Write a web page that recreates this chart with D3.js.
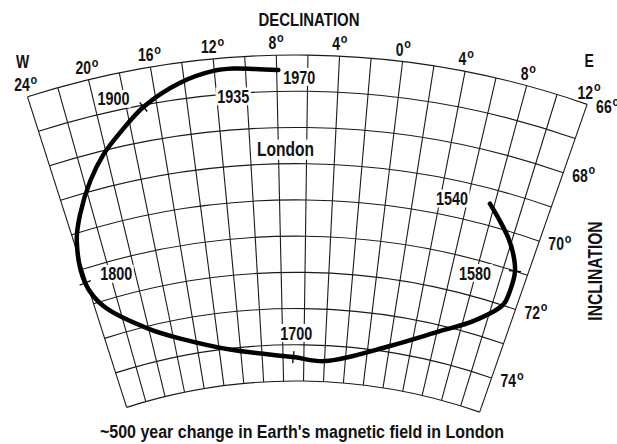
<!DOCTYPE html>
<html>
<head>
<meta charset="utf-8">
<script src="https://cdn.jsdelivr.net/npm/d3@7"></script>
<style>
  body { margin: 0; background: #fff; }
  text { font-family: "Liberation Sans", Arial, sans-serif; font-weight: bold; fill: #111; }
</style>
</head>
<body>
<div id="chart"></div>
<script>
// grid: declination lines every 2 deg (negative = West), inclination arcs every 1 deg
const decLines = [-24, -22, -20, -18, -16, -14, -12, -10, -8, -6, -4, -2, 0, 2, 4, 6, 8, 10, 12];
const incArcs = [66, 67, 68, 69, 70, 71, 72, 73, 74, 75];
const decLabels = [-24, -20, -16, -12, -8, -4, 0, 4, 8, 12];
const incLabels = [66, 68, 70, 72, 74];

// path of the field in London, 1540 -> 1970, as [declination, inclination]
const fieldPath = [
  [7.66, 69.41], [8.72, 69.80], [9.68, 70.18], [10.42, 70.57], [10.96, 71.0],
  [11.07, 71.57], [10.89, 71.98], [8.86, 72.66], [6.25, 73.16], [2.03, 73.83],
  [-3.95, 74.43], [-7.01, 74.34], [-12.98, 74.03], [-17.13, 73.56], [-19.89, 73.10],
  [-23.27, 72.14], [-24.14, 71.38], [-23.77, 70.21], [-22.94, 69.53], [-21.57, 68.72],
  [-20.20, 68.10], [-18.76, 67.62], [-16.89, 67.05], [-14.27, 66.55], [-12.06, 66.33],
  [-10.78, 66.31], [-9.38, 66.36], [-7.89, 66.41]
];

const years = ["1540", "1580", "1700", "1800", "1900", "1935", "1970"];
const yearDec = [7.66, 10.96, -7.01, -24.14, -16.89, -10.2, -7.89];
const yearInc = [69.41, 71.0, 74.34, 71.38, 67.05, 66.3, 66.41];
const tickedYears = ["1580", "1700", "1800", "1900"];

const width = 617, height = 444;
const cx = 296, cy = 938;
const sx = 0.8; // the lettering in the picture is condensed

// label offsets from the year's point on the curve (pixels)
const nudge = {
  "1540": [-38, -5], "1580": [-40, 2], "1700": [3, -24], "1800": [31, -9],
  "1900": [-30, -8], "1935": [-9, 29], "1970": [21, 7]
};

let svg = d3.select('#chart').append('svg')
  .attr('width', width)
  .attr('height', height)

let angle = d3.scaleLinear()
  .domain([-24, 12])
  .range([-17.7 * Math.PI / 180, 19.25 * Math.PI / 180]);

let radius = d3.scaleLinear()
  .domain([66, 75])
  .range([883, 557]);

function proj(dec, inc) {
  let a = angle(dec), r = radius(inc);
  return [cx + r * Math.sin(a), cy - r * Math.cos(a)];
}

// condensed bold text at x,y
function label(parent, x, y, str, size, anchor) {
  let g = parent.append('g').attr('transform', `translate(${x},${y}) scale(${sx},1)`);
  let t = g.append('text')
    .attr('font-size', size)
    .attr('text-anchor', anchor || 'middle')
    .text(str);
  return {g: g, t: t};
}

function degLabel(parent, x, y, num, size, anchor) {
  let l = label(parent, x, y, num, size, anchor);
  l.t.append('tspan')
    .attr('font-size', size * 0.78)
    .attr('dx', 1)
    .attr('dy', -size * 0.42)
    .text('o');
  return l;
}

// grid
let grid = svg.append('g')
  .attr('fill', 'none')
  .attr('stroke', '#1a1a1a')
  .attr('stroke-width', 1.1);

incArcs.forEach(inc => {
  let p = d3.path();
  let s = proj(-24, inc);
  p.moveTo(s[0], s[1]);
  p.arc(cx, cy, radius(inc), angle(-24) - Math.PI / 2, angle(12) - Math.PI / 2);
  grid.append('path').attr('d', p.toString());
});

decLines.forEach(dec => {
  let a = proj(dec, 66), b = proj(dec, 75);
  grid.append('line')
    .attr('x1', a[0]).attr('y1', a[1])
    .attr('x2', b[0]).attr('y2', b[1]);
});

// axis labels
let labels = svg.append('g');
decLabels.forEach(dec => {
  let a = angle(dec), r = radius(66) + 6;
  degLabel(labels, cx + r * Math.sin(a), cy - r * Math.cos(a), String(Math.abs(dec)), 17.5);
});

incLabels.forEach(inc => {
  let p = proj(12, inc);
  degLabel(labels, p[0] + 9, p[1] + 9, String(inc), 17.5, 'start');
});

let cW = proj(-24, 66), cE = proj(12, 66);
label(labels, cW[0] - 5, cW[1] - 29, 'W', 17.5);
label(labels, cE[0] + 2, cE[1] - 37, 'E', 17.5);

label(labels, 309, 26, 'DECLINATION', 18.7);

let inc = svg.append('g').attr('transform', 'translate(602,271) rotate(-90)');
label(inc, 0, 0, 'INCLINATION', 19.5);

svg.append('text')
  .attr('x', 302).attr('y', 438)
  .attr('font-size', 17.5)
  .attr('text-anchor', 'middle')
  .attr('textLength', 404)
  .attr('lengthAdjust', 'spacingAndGlyphs')
  .text("~500 year change in Earth's magnetic field in London");

// year labels with white boxes behind them
let yl = svg.append('g');
function boxed(x, y, str, size) {
  let l = label(yl, x, y + size * 0.36, str, size);
  let bb = l.t.node().getBBox();
  l.g.insert('rect', 'text')
    .attr('x', bb.x - 2).attr('y', bb.y + 1)
    .attr('width', bb.width + 4).attr('height', bb.height - 2)
    .attr('fill', '#fff');
}

years.forEach((yr, i) => {
  let p = proj(yearDec[i], yearInc[i]);
  boxed(p[0] + nudge[yr][0], p[1] + nudge[yr][1], yr, 18);
});
let lp = proj(-7.5, 68.6);
boxed(lp[0], lp[1], 'London', 19.5);

// the curve
let pts = fieldPath.map(d => proj(d[0], d[1]));
svg.append('path')
  .attr('d', d3.line().curve(d3.curveCatmullRom.alpha(0.5))(pts))
  .attr('fill', 'none')
  .attr('stroke', '#000')
  .attr('stroke-width', 4.5)
  .attr('stroke-linecap', 'round')
  .attr('stroke-linejoin', 'round');

// short ticks across the curve at the dated points
tickedYears.forEach(yr => {
  let i = years.indexOf(yr);
  let p = proj(yearDec[i], yearInc[i]);
  let k = d3.minIndex(pts, q => (q[0] - p[0]) ** 2 + (q[1] - p[1]) ** 2);
  let a = pts[Math.max(k - 1, 0)], b = pts[Math.min(k + 1, pts.length - 1)];
  let tx = b[0] - a[0], ty = b[1] - a[1], n = Math.hypot(tx, ty);
  let nx = -ty / n, ny = tx / n;
  svg.append('line')
    .attr('x1', p[0] - nx * 6).attr('y1', p[1] - ny * 6)
    .attr('x2', p[0] + nx * 6).attr('y2', p[1] + ny * 6)
    .attr('stroke', '#000')
    .attr('stroke-width', 1.3);
});
</script>
</body>
</html>
